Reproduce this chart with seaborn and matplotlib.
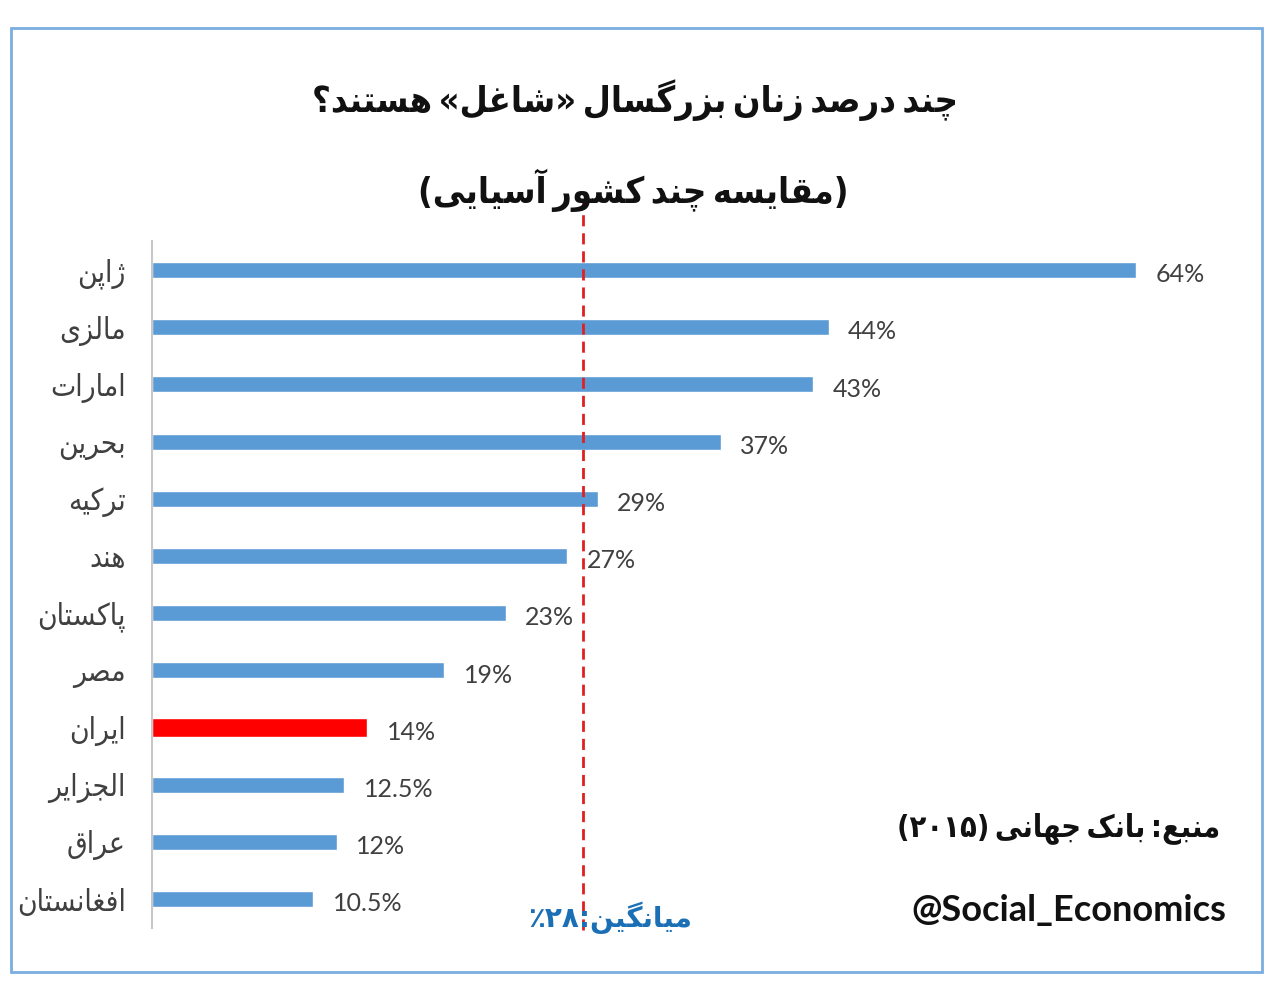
import pandas as pd
import numpy as np
import matplotlib
matplotlib.use('Agg')
import matplotlib.pyplot as plt
import seaborn as sns
from matplotlib.patches import Rectangle

# داده ها
countries = ['ژاپن', 'مالزی', 'امارات', 'بحرین', 'ترکیه', 'هند',
             'پاکستان', 'مصر', 'ایران', 'الجزایر', 'عراق', 'افغانستان']
values = [64, 44, 43, 37, 29, 27, 23, 19, 14, 12.5, 12, 10.5]
value_labels = ['64%', '44%', '43%', '37%', '29%', '27%', '23%', '19%',
                '14%', '12.5%', '12%', '10.5%']
highlight = 'ایران'
average = 28

title = 'چند درصد زنان بزرگسال «شاغل» هستند؟'
subtitle = '(مقایسه چند کشور آسیایی)'
source = 'منبع: بانک جهانی (۲۰۱۵)'
handle = '@Social_Economics'
avg_text = 'میانگین:۲۸٪'


# شکل دهی حروف فارسی (matplotlib خودش این کار را نمی کند)
FORMS = {
    'ا': (0xFE8D, 0xFE8E, None, None), 'آ': (0xFE81, 0xFE82, None, None),
    'ب': (0xFE8F, 0xFE90, 0xFE91, 0xFE92), 'پ': (0xFB56, 0xFB57, 0xFB58, 0xFB59),
    'ت': (0xFE95, 0xFE96, 0xFE97, 0xFE98), 'ث': (0xFE99, 0xFE9A, 0xFE9B, 0xFE9C),
    'ج': (0xFE9D, 0xFE9E, 0xFE9F, 0xFEA0), 'چ': (0xFB7A, 0xFB7B, 0xFB7C, 0xFB7D),
    'ح': (0xFEA1, 0xFEA2, 0xFEA3, 0xFEA4), 'خ': (0xFEA5, 0xFEA6, 0xFEA7, 0xFEA8),
    'د': (0xFEA9, 0xFEAA, None, None), 'ذ': (0xFEAB, 0xFEAC, None, None),
    'ر': (0xFEAD, 0xFEAE, None, None), 'ز': (0xFEAF, 0xFEB0, None, None),
    'ژ': (0xFB8A, 0xFB8B, None, None),
    'س': (0xFEB1, 0xFEB2, 0xFEB3, 0xFEB4), 'ش': (0xFEB5, 0xFEB6, 0xFEB7, 0xFEB8),
    'ص': (0xFEB9, 0xFEBA, 0xFEBB, 0xFEBC), 'ض': (0xFEBD, 0xFEBE, 0xFEBF, 0xFEC0),
    'ط': (0xFEC1, 0xFEC2, 0xFEC3, 0xFEC4), 'ظ': (0xFEC5, 0xFEC6, 0xFEC7, 0xFEC8),
    'ع': (0xFEC9, 0xFECA, 0xFECB, 0xFECC), 'غ': (0xFECD, 0xFECE, 0xFECF, 0xFED0),
    'ف': (0xFED1, 0xFED2, 0xFED3, 0xFED4), 'ق': (0xFED5, 0xFED6, 0xFED7, 0xFED8),
    'ک': (0xFB8E, 0xFB8F, 0xFB90, 0xFB91), 'گ': (0xFB92, 0xFB93, 0xFB94, 0xFB95),
    'ل': (0xFEDD, 0xFEDE, 0xFEDF, 0xFEE0), 'م': (0xFEE1, 0xFEE2, 0xFEE3, 0xFEE4),
    'ن': (0xFEE5, 0xFEE6, 0xFEE7, 0xFEE8), 'و': (0xFEED, 0xFEEE, None, None),
    'ه': (0xFEE9, 0xFEEA, 0xFEEB, 0xFEEC), 'ی': (0xFBFC, 0xFBFD, 0xFBFE, 0xFBFF),
}
MIRROR = {'(': ')', ')': '(', '«': '»', '»': '«'}


def shape(s):
    out = []
    for i, c in enumerate(s):
        if c not in FORMS:
            out.append(c)
            continue
        f = FORMS[c]
        prev = s[i - 1] if i > 0 else None
        nxt = s[i + 1] if i + 1 < len(s) else None
        jp = prev in FORMS and FORMS[prev][2] is not None
        jn = f[2] is not None and nxt in FORMS
        if jp and jn:
            out.append(chr(f[3]))
        elif jp:
            out.append(chr(f[1]))
        elif jn:
            out.append(chr(f[2]))
        else:
            out.append(chr(f[0]))
    return ''.join(out)


def is_ltr(c):
    return (c.isascii() and c.isalnum()) or ('۰' <= c <= '۹')


def fa(s, space=' '):
    s = shape(s)
    runs = []
    for c in s:
        kind = is_ltr(c)
        if runs and runs[-1][0] == kind:
            runs[-1][1].append(c)
        else:
            runs.append((kind, [c]))
    vis = []
    for kind, chars in reversed(runs):
        if kind:
            vis.append(''.join(chars))
        else:
            vis.append(''.join(MIRROR.get(c, c) for c in reversed(chars)))
    return ''.join(vis).replace(' ', space)


df = pd.DataFrame({'country': [fa(c) for c in countries], 'value': values})
order = list(df['country'])
df_hi = df[df['country'] == fa(highlight)]
df_rest = df[df['country'] != fa(highlight)]

sns.set_style('white')
plt.rcParams['font.family'] = ['DejaVu Sans']
cond = 'condensed'

fig = plt.figure(figsize=(12.8, 9.89), dpi=100)
ax = fig.add_axes([152 / 1280, 1 - 927.6 / 989, 1076.25 / 1280, 686.2 / 989])

sns.barplot(data=df_rest, x='value', y='country', order=order, orient='h',
            color='#5b9bd5', width=0.28, saturation=1, ax=ax)
sns.barplot(data=df_hi, x='value', y='country', order=order, orient='h',
            color='#ff0000', width=0.34, saturation=1, ax=ax)

ax.set_xlim(0, 70)
ax.set_ylim(len(order) - 0.5, -0.5)
ax.set_xlabel('')
ax.set_ylabel('')
ax.set_xticks([])
for sp in ['top', 'right', 'bottom']:
    ax.spines[sp].set_visible(False)
ax.spines['left'].set_color('#c8c8c8')
ax.spines['left'].set_linewidth(1.5)
ax.tick_params(axis='y', length=0, pad=19, labelsize=21.5, labelcolor='#404040')
for t in ax.get_yticklabels():
    t.set_fontstretch(cond)
    t.set_va('center_baseline')

for i, (v, lab) in enumerate(zip(values, value_labels)):
    ax.annotate(lab, (v, i), xytext=(14, -2), textcoords='offset points',
                ha='left', va='center_baseline', fontsize=18, color='#404040',
                family=['Lato', 'DejaVu Sans'])

# خط میانگین
ax.axvline(average, ymin=-0.004, ymax=1.06, color='#e02020', lw=2,
           ls=(0, (4, 2.5)), clip_on=False)

fig.text(635 / 1280, 1 - 100 / 989, fa(title, '\u2009'), ha='center', va='center',
         fontsize=26, fontweight='bold', fontstretch=cond, color='#111111')
fig.text(633 / 1280, 1 - 190 / 989, fa(subtitle, '\u2009'), ha='center', va='center',
         fontsize=26, fontweight='bold', fontstretch=cond, color='#111111')
fig.text(1220 / 1280, 1 - 828 / 989, fa(source, '\u2009'), ha='right', va='center',
         fontsize=22, fontweight='bold', fontstretch=cond, color='#111111')
fig.text(1226 / 1280, 1 - 910 / 989, handle, ha='right', va='center',
         fontsize=26, fontweight='bold', color='#111111',
         family=['Lato', 'DejaVu Sans'])
fig.text(692 / 1280, 1 - 918 / 989, fa(avg_text), ha='right', va='center',
         fontsize=20, fontweight='bold', color='#1a6fb5')

fig.patches.append(Rectangle((11 / 1280, 1 - 972 / 989), 1251 / 1280, 944 / 989,
                             transform=fig.transFigure, fill=False,
                             edgecolor='#7aaee0', lw=2))

fig.savefig('out.png', dpi=100)
